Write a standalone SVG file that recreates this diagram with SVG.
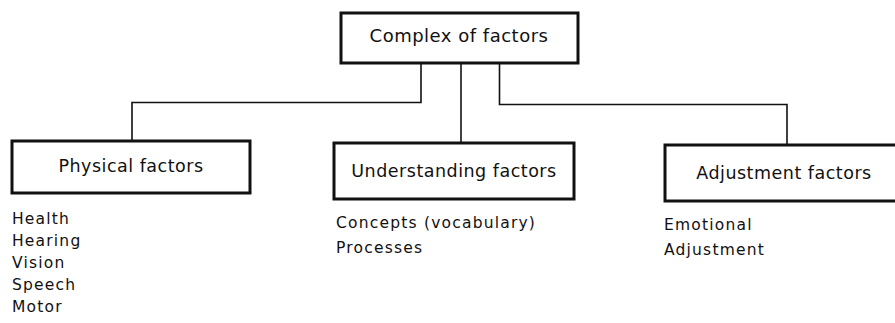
<svg xmlns="http://www.w3.org/2000/svg" width="895" height="323" viewBox="0 0 895 323">
  <style>
    .box { fill: #fff; stroke: #111; stroke-width: 3; }
    .conn { fill: none; stroke: #111; stroke-width: 1.6; }
    .title { font-family: "DejaVu Sans", sans-serif; font-size: 17.5px; letter-spacing: 0.5px; fill: #111; text-anchor: middle; }
    .item { font-family: "DejaVu Sans", sans-serif; font-size: 15.5px; letter-spacing: 1.2px; fill: #111; }
  </style>
  <rect width="895" height="323" fill="#fff"/>
  <g id="connectors">
    <polyline class="conn" points="421,63 421,102.5 132,102.5 132,141"/>
    <polyline class="conn" points="461,63 461,143"/>
    <polyline class="conn" points="499.5,63 499.5,104.5 787,104.5 787,145"/>
  </g>
  <g id="complex">
    <rect class="box" x="341" y="13" width="237" height="50"/>
    <text class="title" x="459" y="42" style="font-size:18px">Complex of factors</text>
  </g>
  <g id="physical">
    <rect class="box" x="12" y="141" width="238" height="52"/>
    <text class="title" x="131" y="172">Physical factors</text>
    <text class="item" x="12" y="224">Health</text>
    <text class="item" x="12" y="246">Hearing</text>
    <text class="item" x="12" y="268">Vision</text>
    <text class="item" x="12" y="290">Speech</text>
    <text class="item" x="12" y="312">Motor</text>
  </g>
  <g id="understanding">
    <rect class="box" x="334" y="143" width="240" height="56"/>
    <text class="title" x="454" y="177">Understanding factors</text>
    <text class="item" x="336" y="228">Concepts (vocabulary)</text>
    <text class="item" x="336" y="253">Processes</text>
  </g>
  <g id="adjustment">
    <rect class="box" x="665" y="145" width="240" height="56"/>
    <text class="title" x="784" y="179">Adjustment factors</text>
    <text class="item" x="664" y="230">Emotional</text>
    <text class="item" x="664" y="255">Adjustment</text>
  </g>
</svg>
